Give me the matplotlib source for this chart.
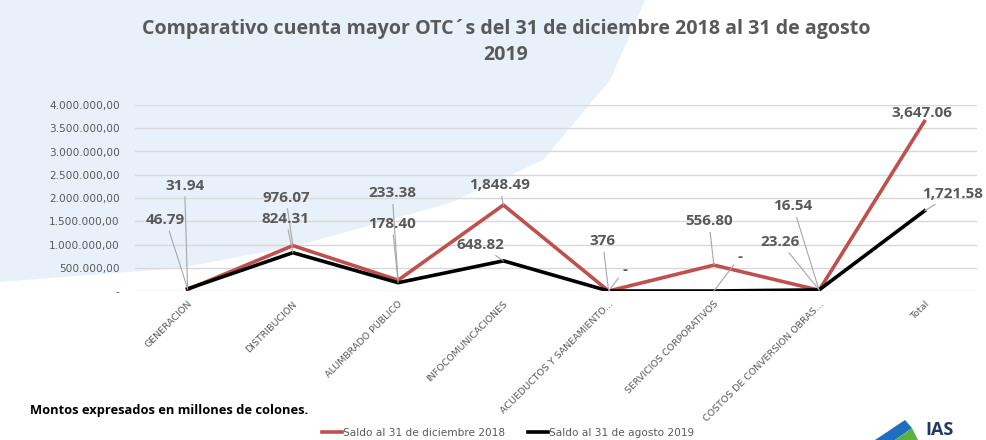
import matplotlib
matplotlib.use("Agg")
import matplotlib.pyplot as plt
from matplotlib.patches import Polygon
from matplotlib.ticker import FuncFormatter

# ---------------- data ----------------
categories = ["GENERACIÓN", "DISTRIBUCIÓN", "ALUMBRADO PÚBLICO", "INFOCOMUNICACIONES",
              "ACUEDUCTOS Y SANEAMIENTO...", "SERVICIOS CORPORATIVOS",
              "COSTOS DE CONVERSIÓN OBRAS...", "Total"]
# values in millions of colones (axis shows thousands-formatted units)
dic_2018 = [31.94, 976.07, 233.38, 1848.49, 0.376, 556.80, 16.54, 3647.06]
ago_2019 = [46.79, 824.31, 178.40, 648.82, 0.0, 0.0, 23.26, 1721.58]
dic_2018_labels = ["31.94", "976.07", "233.38", "1,848.49", "376", "556.80", "16.54", "3,647.06"]
ago_2019_labels = ["46.79", "824.31", "178.40", "648.82", "-", "-", "23.26", "1,721.58"]
series_names = ["Saldo al 31 de diciembre 2018", "Saldo al 31 de agosto 2019"]
title = "Comparativo cuenta mayor OTC´s del 31 de diciembre 2018 al 31 de agosto\n2019"
note = "Montos expresados en millones de colones."
yticks = [0, 500000, 1000000, 1500000, 2000000, 2500000, 3000000, 3500000, 4000000]

# label offsets in pixels (dx, dy), style only
red_off = [(-3, 104), (-7, 48), (-6, 87), (-4, 20), (-6, 50), (-5, 44), (-26, 84), (-2, 8)]
blk_off = [(-22, 69), (-7, 34), (-6, 59), (-23, 16), (16, 21), (26, 34), (-39, 48), (28, 17)]
red_leader = [True, True, True, True, True, True, True, False]
blk_leader = [True, True, True, True, True, True, True, True]

W, H = 987, 440
fig = plt.figure(figsize=(W / 100, H / 100), dpi=100)
fig.patch.set_facecolor("white")

# decorative background swoosh (top-left light blue) on a background axes
bgax = fig.add_axes([0, 0, 1, 1], zorder=-10)
bgax.set_xlim(0, W)
bgax.set_ylim(H, 0)
bgax.axis("off")
pts = [(0, 0), (645, 0), (610, 80), (543, 160), (450, 203), (300, 245), (180, 268), (0, 282)]
bgax.add_patch(Polygon(pts, closed=True, facecolor="#e8f1f9", edgecolor="none"))
# partial logo at bottom right
bgax.add_patch(Polygon([(875, 440), (905, 420), (912, 428), (895, 440)], closed=True,
                       facecolor="#1f6fbf", edgecolor="none"))
bgax.add_patch(Polygon([(895, 440), (912, 428), (918, 440)], closed=True,
                       facecolor="#5bb043", edgecolor="none"))

ax = fig.add_axes([135 / W, 1 - 291 / H, 842 / W, 186 / H], zorder=1)
ax.set_facecolor("none")

x = list(range(len(categories)))
scale = 1000.0
red_y = [v * scale for v in dic_2018]
blk_y = [v * scale for v in ago_2019]

ax.plot(x, red_y, color="#C0504D", lw=2.6, zorder=3, label=series_names[0])
ax.plot(x, blk_y, color="#000000", lw=2.6, zorder=3, label=series_names[1])

ax.set_xlim(-0.5, len(categories) - 0.5)
ax.set_ylim(0, 4000000)
ax.set_yticks(yticks)


def fmt(v, pos):
    if v == 0:
        return "-"
    s = f"{v:,.2f}"
    return s.replace(",", "X").replace(".", ",").replace("X", ".")


ax.yaxis.set_major_formatter(FuncFormatter(fmt))
ax.grid(axis="y", color="#d9d9d9", lw=1)
ax.set_axisbelow(True)
for s in ax.spines.values():
    s.set_visible(False)
ax.tick_params(axis="y", length=0, pad=11, labelsize=7.6, labelcolor="#595959")
ax.tick_params(axis="x", length=0, pad=6)
ax.set_xticks(x)
ax.set_xticklabels(categories, rotation=45, ha="right", rotation_mode="anchor",
                   fontsize=6.8, color="#595959")

lab_kw = dict(fontsize=11, fontweight="bold", color="#595959", family="Open Sans",
              ha="center", va="center", textcoords="offset pixels", zorder=5)
for xi, yi, lab, off, ld in zip(x, red_y, dic_2018_labels, red_off, red_leader):
    ap = dict(arrowstyle="-", color="#a6a6a6", lw=0.8, shrinkA=1, shrinkB=0) if ld else None
    ax.annotate(lab, (xi, yi), xytext=off, arrowprops=ap, **lab_kw)
for xi, yi, lab, off, ld in zip(x, blk_y, ago_2019_labels, blk_off, blk_leader):
    ap = dict(arrowstyle="-", color="#a6a6a6", lw=0.8, shrinkA=1, shrinkB=0) if ld else None
    ax.annotate(lab, (xi, yi), xytext=off, arrowprops=ap, **lab_kw)

fig.text(506 / W, 1 - 42 / H, title, ha="center", va="center", fontsize=14.1,
         fontweight="bold", color="#595959", family="Open Sans", linespacing=1.45)

fig.text(30 / W, 1 - 410 / H, note, ha="left", va="center", fontsize=9.3,
         fontweight="bold", color="#000000", family="Open Sans")

fig.legend(loc="center", bbox_to_anchor=(508 / W, 1 - 433 / H), ncol=2, frameon=False,
           fontsize=7.6, handlelength=1.9, handletextpad=0.1, columnspacing=2.2,
           labelcolor="#595959")

fig.text(925 / W, 1 - 421 / H, "IAS", ha="left", va="top", fontsize=13, fontweight="bold",
         color="#1f3864", family="Open Sans")

fig.savefig("out.png", dpi=100)
